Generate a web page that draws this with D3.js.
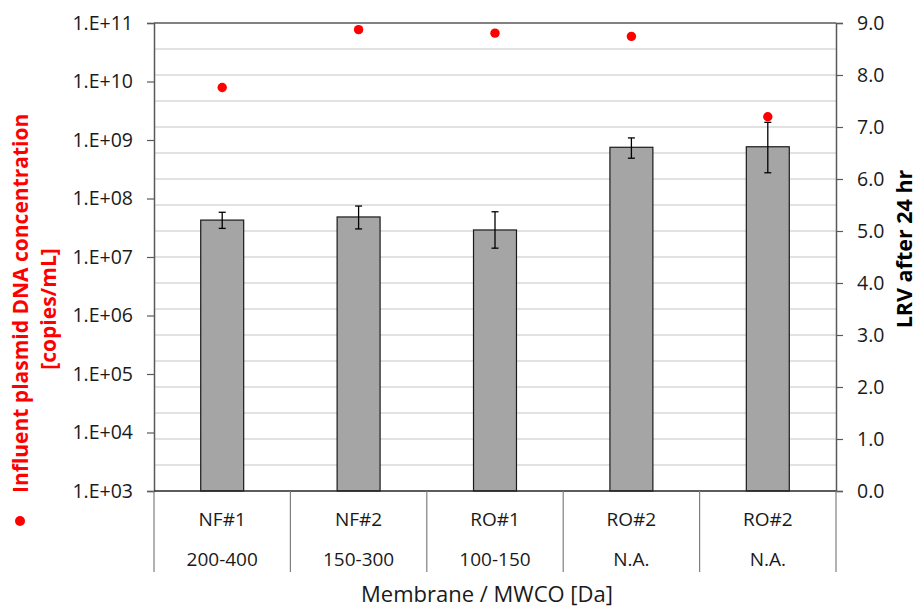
<!DOCTYPE html>
<html>
<head>
<meta charset="utf-8">
<script src="https://cdnjs.cloudflare.com/ajax/libs/d3/7.8.5/d3.min.js"></script>
<style>
  body { margin: 0; background: #fff; }
  svg text { font-family: "Open Sans", "Noto Sans", sans-serif; fill: #1a1a1a; }
</style>
</head>
<body>
<svg class="chart"></svg>
<script>
// membranes and their MWCO
var membranes = ["NF#1", "NF#2", "RO#1", "RO#2", "RO#2"];
var mwco = ["200-400", "150-300", "100-150", "N.A.", "N.A."];

// LRV after 24 hr (bars, right axis) with error range
var lrv = [5.21, 5.27, 5.02, 6.61, 6.62];
var lrvLow = [5.05, 5.04, 4.67, 6.40, 6.12];
var lrvHigh = [5.36, 5.48, 5.37, 6.79, 7.09];

// influent plasmid DNA concentration (dots, left log axis)
var influent = [7.9e9, 7.7e10, 6.7e10, 5.9e10, 2.5e9];

var leftTicks = [1e3, 1e4, 1e5, 1e6, 1e7, 1e8, 1e9, 1e10, 1e11];
var rightTicks = [0, 1, 2, 3, 4, 5, 6, 7, 8, 9];
var gridTicks = d3.range(0.5, 9, 0.5);

function show() {
    'use strict';
    var W = 921, H = 609;
    var margin = {top: 23, bottom: 118, right: 85, left: 154},
        width = W - margin.left - margin.right,
        height = H - margin.top - margin.bottom;

    var svg = d3.select(".chart").attr("width", W).attr("height", H)
        .append("g")
        .attr("transform", "translate(" + margin.left + "," + margin.top + ")");

    var x = d3.scaleBand().domain(d3.range(membranes.length)).range([0, width])
        .paddingInner(0.685).paddingOuter(0.3425);
    var xCat = d3.scaleBand().domain(d3.range(membranes.length)).range([0, width]);
    var yLog = d3.scaleLog().domain([1e3, 1e11]).range([height, 0]);
    var yLin = d3.scaleLinear().domain([0, 9]).range([height, 0]);

    // gridlines
    svg.append("g").selectAll("line").data(gridTicks).enter()
        .append("line")
        .attr("x1", 0).attr("x2", width)
        .attr("y1", function(d) {return yLin(d)})
        .attr("y2", function(d) {return yLin(d)})
        .attr("stroke", "#d9d9d9").attr("stroke-width", 1.5);

    // top border
    svg.append("line").attr("x1", 0).attr("x2", width).attr("y1", 0).attr("y2", 0)
        .attr("stroke", "#595959").attr("stroke-width", 1.5);

    // bars
    svg.append("g").selectAll("rect").data(lrv).enter()
        .append("rect")
        .attr("x", function(d, i) {return x(i)})
        .attr("width", x.bandwidth())
        .attr("y", function(d) {return yLin(d)})
        .attr("height", function(d) {return height - yLin(d)})
        .attr("fill", "#a5a5a5").attr("stroke", "#1a1a1a").attr("stroke-width", 1.2);

    // error bars
    var err = svg.append("g").attr("stroke", "#000").attr("stroke-width", 1.3);
    lrv.forEach(function(d, i) {
        var cx = x(i) + x.bandwidth() / 2;
        err.append("line").attr("x1", cx).attr("x2", cx)
            .attr("y1", yLin(lrvLow[i])).attr("y2", yLin(lrvHigh[i]));
        [lrvLow[i], lrvHigh[i]].forEach(function(v) {
            err.append("line").attr("x1", cx - 3.5).attr("x2", cx + 3.5)
                .attr("y1", yLin(v)).attr("y2", yLin(v));
        });
    });

    // dots
    svg.append("g").selectAll("circle").data(influent).enter()
        .append("circle")
        .attr("cx", function(d, i) {return x(i) + x.bandwidth() / 2})
        .attr("cy", function(d) {return yLog(d)})
        .attr("r", 4.7)
        .attr("fill", "#ff0000");

    // left axis
    var left = svg.append("g")
        .call(d3.axisLeft(yLog).tickValues(leftTicks).tickSize(7).tickPadding(14)
            .tickFormat(function(d) {return "1.E+" + d3.format("02d")(Math.round(Math.log10(d)))}));
    left.select(".domain").attr("stroke", "#595959").attr("stroke-width", 1.5);
    left.selectAll(".tick line").attr("stroke", "#595959").attr("stroke-width", 1.2);
    left.selectAll("text").style("font-size", "19.5px").attr("fill", "#1a1a1a");

    // right axis
    var right = svg.append("g").attr("transform", "translate(" + width + ",0)")
        .call(d3.axisRight(yLin).tickValues(rightTicks).tickSize(7).tickPadding(14)
            .tickFormat(d3.format(".1f")));
    right.select(".domain").attr("stroke", "#595959").attr("stroke-width", 1.5);
    right.selectAll(".tick line").attr("stroke", "#595959").attr("stroke-width", 1.2);
    right.selectAll("text").style("font-size", "19.5px").attr("fill", "#1a1a1a");

    // bottom axis line + category table
    svg.append("line").attr("x1", 0).attr("x2", width).attr("y1", height).attr("y2", height)
        .attr("stroke", "#262626").attr("stroke-width", 1.5);
    var seps = d3.range(membranes.length + 1).map(function(i) {
        return i < membranes.length ? xCat(i) : width;
    });
    svg.append("g").selectAll("line").data(seps).enter()
        .append("line")
        .attr("x1", function(d) {return d}).attr("x2", function(d) {return d})
        .attr("y1", height).attr("y2", height + 81)
        .attr("stroke", "#7f7f7f").attr("stroke-width", 1.2);

    var cats = svg.append("g").attr("text-anchor", "middle").style("font-size", "19px");
    cats.selectAll("text.m").data(membranes).enter()
        .append("text").attr("class", "m")
        .attr("x", function(d, i) {return xCat(i) + xCat.bandwidth() / 2})
        .attr("y", height + 35)
        .text(function(d) {return d});
    cats.selectAll("text.w").data(mwco).enter()
        .append("text").attr("class", "w")
        .attr("x", function(d, i) {return xCat(i) + xCat.bandwidth() / 2})
        .attr("y", height + 75)
        .text(function(d) {return d});

    // x title
    svg.append("text")
        .attr("x", width / 2 - 8).attr("y", height + 111)
        .attr("text-anchor", "middle").style("font-size", "22px")
        .text("Membrane / MWCO [Da]");

    // left title (red, two lines) with legend dot
    var lt = d3.select(".chart").append("g");
    lt.append("circle").attr("cx", 20).attr("cy", 521).attr("r", 5).attr("fill", "#ff0000");
    lt.append("text")
        .attr("transform", "translate(28,493) rotate(-90)")
        .attr("text-anchor", "start")
        .style("font-size", "21px").style("font-weight", "bold").style("fill", "#ff0000")
        .text("Influent plasmid DNA concentration");
    lt.append("text")
        .attr("transform", "translate(56,309) rotate(-90)")
        .attr("text-anchor", "middle")
        .style("font-size", "21px").style("font-weight", "bold").style("fill", "#ff0000")
        .text("[copies/mL]");

    // right title
    d3.select(".chart").append("text")
        .attr("transform", "translate(912,249) rotate(-90)")
        .attr("text-anchor", "middle")
        .style("font-size", "21.5px").style("font-weight", "bold").style("fill", "#000")
        .text("LRV after 24 hr");
}
show();
</script>
</body>
</html>
